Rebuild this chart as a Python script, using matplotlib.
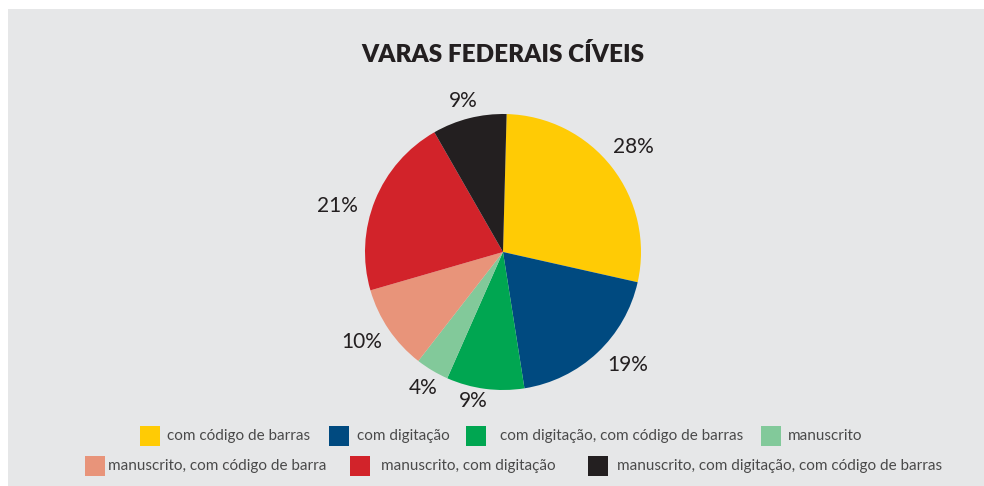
import matplotlib
matplotlib.use("Agg")
import matplotlib.pyplot as plt
from matplotlib.patches import Rectangle
import numpy as np

# ---- data ----
title = "VARAS FEDERAIS CÍVEIS"
categories = [
    "com código de barras",
    "com digitação",
    "com digitação, com código de barras",
    "manuscrito",
    "manuscrito, com código de barra",
    "manuscrito, com digitação",
    "manuscrito, com digitação, com código de barras",
]
values = [28.1, 19.0, 9.1, 3.9, 10.0, 21.2, 8.7]
colors = ["#FFCB05", "#004A80", "#00A651", "#82C99A", "#E8947A", "#D2232A", "#231F20"]

# ---- layout (pixels) ----
W, H = 984, 486
label_dist = [1.22, 1.21, 1.09, 1.13, 1.21, 1.25, 1.14]
label_angle_shift = [1.5, 5.0, -4.0, 0.0, -2.0, 6.0, 0.5]
legend_sq_x = [140, 329, 466, 761, 85, 350, 588]
legend_tx_x = [167, 357, 500, 788, 108, 381, 617]
legend_row = [0, 0, 0, 0, 1, 1, 1]
row_y = [436, 466]
sq = 20

plt.rcParams['font.family'] = ['Lato', 'DejaVu Sans']
fig = plt.figure(figsize=(W / 100, H / 100), dpi=100)
fig.patch.set_facecolor("white")

# gray panel
fig.patches.append(Rectangle((8 / W, 0), 1 - 8 / W, (H - 9) / H, transform=fig.transFigure,
                             facecolor="#E6E7E8", edgecolor="none", zorder=-10))

fig.text(503 / W, 1 - 55 / H, title, ha="center", va="center", fontsize=17.5,
         fontweight="heavy", color="#231F20")

cx, cy, r = 503, 252, 138
ax = fig.add_axes([(cx - r) / W, (H - cy - r) / H, 2 * r / W, 2 * r / H], zorder=5)

wedges, _ = ax.pie(values, colors=colors, startangle=88.5, counterclock=False,
                   radius=1, wedgeprops=dict(linewidth=0))
ax.set_xlim(-1, 1)
ax.set_ylim(-1, 1)
ax.set_aspect("equal")
ax.axis("off")
for w, v, d, s in zip(wedges, values, label_dist, label_angle_shift):
    mid = np.deg2rad((w.theta1 + w.theta2) / 2 + s)
    ax.text(d * np.cos(mid), d * np.sin(mid) - 0.012, f"{v:.0f}%", ha="center", va="center",
            fontsize=15, color="#231F20", clip_on=False)

for cat, col, sx, tx, row in zip(categories, colors, legend_sq_x, legend_tx_x, legend_row):
    yc = row_y[row]
    fig.patches.append(Rectangle((sx / W, 1 - (yc + sq / 2) / H), sq / W, sq / H,
                                 transform=fig.transFigure, facecolor=col, edgecolor="none"))
    fig.text(tx / W, 1 - yc / H, cat, ha="left", va="center", fontsize=11, color="#4A4A4A")

fig.savefig("out.png", dpi=100, facecolor=fig.get_facecolor())
